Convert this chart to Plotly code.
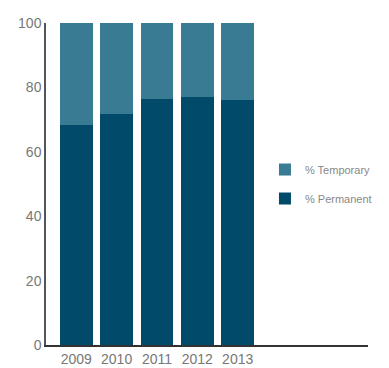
import plotly.graph_objects as go

years = ["2009", "2010", "2011", "2012", "2013"]
permanent = [68.3, 71.7, 76.3, 76.9, 76.0]
temporary = [100 - p for p in permanent]
y_ticks = [0, 20, 40, 60, 80, 100]

fig = go.Figure()
fig.add_trace(go.Bar(x=years, y=permanent, name="% Permanent", marker_color="#024a6a",
                     marker_line_width=0, width=0.81, legendgroup="p", legendrank=2))
fig.add_trace(go.Bar(x=years, y=temporary, name="% Temporary", marker_color="#387b93",
                     marker_line_width=0, width=0.81, legendgroup="t", legendrank=1))

fig.update_layout(
    width=389, height=368,
    margin=dict(l=46, r=18, t=23, b=23),
    barmode="stack",
    plot_bgcolor="white", paper_bgcolor="white",
    font=dict(family="Liberation Sans, Arial, sans-serif", color="#777777", size=14),
    legend=dict(traceorder="grouped", tracegroupgap=10,
                x=0.68, xanchor="left", y=0.59, yanchor="top",
                font=dict(size=11, color="#888888"), bgcolor="rgba(0,0,0,0)"),
    xaxis=dict(type="category", range=[-0.75, 7.23], showline=True, linecolor="#333333",
               linewidth=1.5, showgrid=False, ticks="", zeroline=False, tickfont=dict(size=14),
               automargin=False),
    yaxis=dict(range=[0, 100], tickvals=y_ticks, showline=True, linecolor="#555555",
               linewidth=1.5, showgrid=False, ticks="", zeroline=False, tickfont=dict(size=14),
               automargin=False),
)

fig.write_html("out.html")
